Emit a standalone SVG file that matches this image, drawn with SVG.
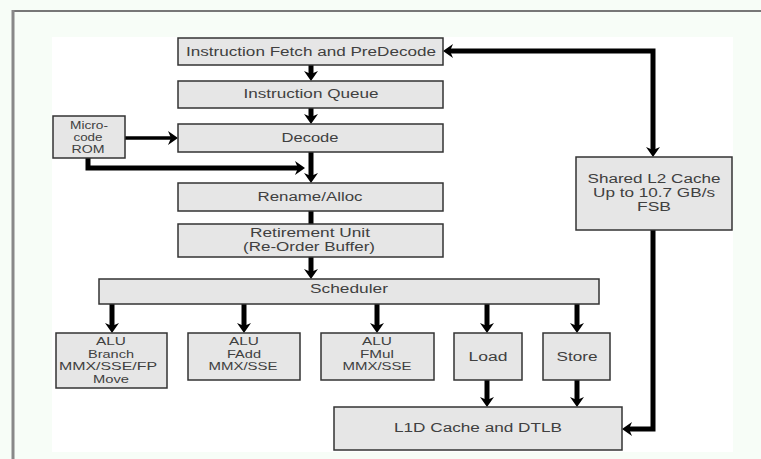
<svg xmlns="http://www.w3.org/2000/svg" width="761" height="459" viewBox="0 0 761 459">
<defs>
<style>
.box{fill:#e6e6e6;stroke:#333;stroke-width:1.5}
.t{font-family:"Liberation Sans",Arial,sans-serif;font-size:12px;fill:#404040;text-anchor:middle}
.s{font-size:10.5px}
.u{font-size:10px}
.c{fill:none;stroke:#000;stroke-width:5}
.thin{stroke-width:3.5}
</style>
<marker id="ah" viewBox="0 0 10 14" refX="3" refY="7" markerWidth="10" markerHeight="14" markerUnits="userSpaceOnUse" orient="auto-start-reverse">
<path d="M0,0 L10,7 L0,14 L3,7 z" fill="#000"/>
</marker>
</defs>
<rect x="0" y="0" width="761" height="459" fill="#f7fdf7"/>
<rect x="52" y="37" width="681" height="415" fill="#ffffff"/>
<line x1="12" y1="11" x2="761" y2="11" stroke="#777" stroke-width="2"/>
<line x1="13" y1="10" x2="13" y2="459" stroke="#888" stroke-width="3"/>

<g id="connectors">
<path class="c" d="M311,65 V74" marker-end="url(#ah)"/>
<path class="c" d="M311,108 V117" marker-end="url(#ah)"/>
<path class="c" d="M311,152 V176" marker-end="url(#ah)"/>
<path class="c" d="M311,211 V224"/>
<path class="c" d="M311,257 V272" marker-end="url(#ah)"/>
<path class="c" d="M112,304 V326" marker-end="url(#ah)"/>
<path class="c" d="M244,304 V326" marker-end="url(#ah)"/>
<path class="c" d="M377,304 V326" marker-end="url(#ah)"/>
<path class="c" d="M487,304 V326" marker-end="url(#ah)"/>
<path class="c" d="M577,304 V326" marker-end="url(#ah)"/>
<path class="c" d="M487,380 V400" marker-end="url(#ah)"/>
<path class="c" d="M577,380 V400" marker-end="url(#ah)"/>
<path class="c thin" d="M125,138 H171" marker-end="url(#ah)"/>
<path class="c" d="M88,158 V168 H298" stroke-width="4" marker-end="url(#ah)"/>
<path class="c" d="M450,51 H653 V150" marker-start="url(#ah)" marker-end="url(#ah)"/>
<path class="c" d="M653,230 V429 H629" marker-end="url(#ah)"/>
</g>

<g id="fetch"><rect class="box" x="178" y="38" width="265" height="27"/>
<text class="t" x="311" y="56" textLength="250" lengthAdjust="spacingAndGlyphs">Instruction Fetch and PreDecode</text></g>
<g id="queue"><rect class="box" x="178" y="81" width="265" height="27"/>
<text class="t" x="311" y="98" textLength="135" lengthAdjust="spacingAndGlyphs">Instruction Queue</text></g>
<g id="decode"><rect class="box" x="178" y="124" width="265" height="28"/>
<text class="t" x="310" y="142" textLength="57" lengthAdjust="spacingAndGlyphs">Decode</text></g>
<g id="ucode"><rect class="box" x="53" y="116" width="72" height="42"/>
<text class="t u" x="89" y="129" textLength="38" lengthAdjust="spacingAndGlyphs">Micro-</text>
<text class="t u" x="88" y="141" textLength="29" lengthAdjust="spacingAndGlyphs">code</text>
<text class="t u" x="88" y="153" textLength="33" lengthAdjust="spacingAndGlyphs">ROM</text></g>
<g id="rename"><rect class="box" x="178" y="183" width="265" height="28"/>
<text class="t" x="310" y="201" textLength="105" lengthAdjust="spacingAndGlyphs">Rename/Alloc</text></g>
<g id="retire"><rect class="box" x="178" y="224" width="265" height="33"/>
<text class="t" x="310" y="237" textLength="120" lengthAdjust="spacingAndGlyphs">Retirement Unit</text>
<text class="t" x="309" y="251" textLength="132" lengthAdjust="spacingAndGlyphs">(Re-Order Buffer)</text></g>
<g id="scheduler"><rect class="box" x="99" y="279" width="500" height="25"/>
<text class="t" x="349" y="293" textLength="78" lengthAdjust="spacingAndGlyphs">Scheduler</text></g>
<g id="alu1"><rect class="box" x="56" y="333" width="111" height="55"/>
<text class="t s" x="111" y="345" textLength="30" lengthAdjust="spacingAndGlyphs">ALU</text>
<text class="t s" x="111" y="357.5" textLength="46" lengthAdjust="spacingAndGlyphs">Branch</text>
<text class="t s" x="108" y="370" textLength="98" lengthAdjust="spacingAndGlyphs">MMX/SSE/FP</text>
<text class="t s" x="111" y="382.5" textLength="36" lengthAdjust="spacingAndGlyphs">Move</text></g>
<g id="alu2"><rect class="box" x="188" y="333" width="112" height="47"/>
<text class="t s" x="244" y="345" textLength="30" lengthAdjust="spacingAndGlyphs">ALU</text>
<text class="t s" x="244" y="357.5" textLength="34" lengthAdjust="spacingAndGlyphs">FAdd</text>
<text class="t s" x="243" y="370" textLength="69" lengthAdjust="spacingAndGlyphs">MMX/SSE</text></g>
<g id="alu3"><rect class="box" x="321" y="333" width="113" height="47"/>
<text class="t s" x="377" y="345" textLength="30" lengthAdjust="spacingAndGlyphs">ALU</text>
<text class="t s" x="377" y="357.5" textLength="34" lengthAdjust="spacingAndGlyphs">FMul</text>
<text class="t s" x="377" y="370" textLength="69" lengthAdjust="spacingAndGlyphs">MMX/SSE</text></g>
<g id="load"><rect class="box" x="454" y="333" width="68" height="47"/>
<text class="t" x="488" y="361" textLength="39" lengthAdjust="spacingAndGlyphs">Load</text></g>
<g id="store"><rect class="box" x="543" y="333" width="67" height="47"/>
<text class="t" x="577" y="361" textLength="41" lengthAdjust="spacingAndGlyphs">Store</text></g>
<g id="l1d"><rect class="box" x="334" y="407" width="288" height="43"/>
<text class="t" x="478" y="432" textLength="168" lengthAdjust="spacingAndGlyphs">L1D Cache and DTLB</text></g>
<g id="l2"><rect class="box" x="576" y="157" width="156" height="73"/>
<text class="t" x="654" y="183" textLength="133" lengthAdjust="spacingAndGlyphs">Shared L2 Cache</text>
<text class="t" x="654" y="197" textLength="122" lengthAdjust="spacingAndGlyphs">Up to 10.7 GB/s</text>
<text class="t" x="654" y="211" textLength="34" lengthAdjust="spacingAndGlyphs">FSB</text></g>
</svg>
